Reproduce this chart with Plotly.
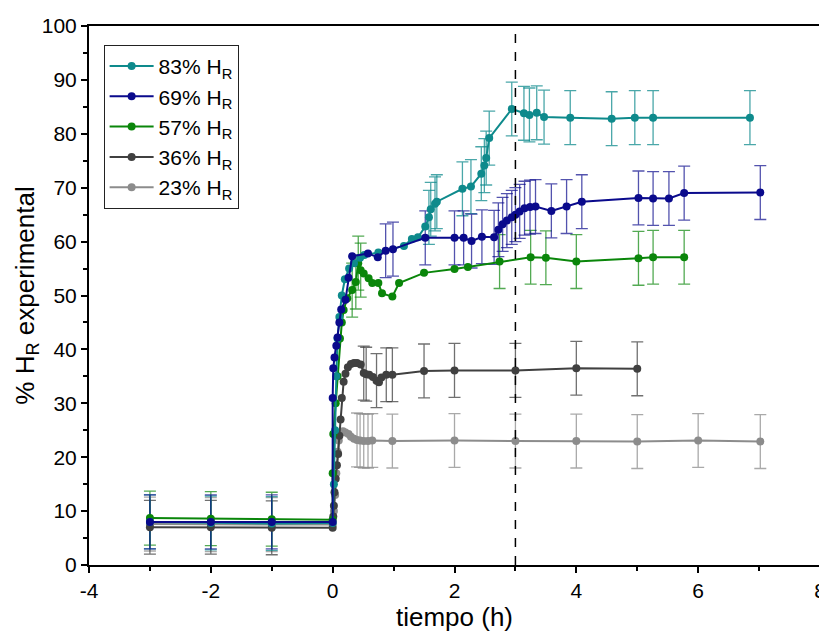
import plotly.graph_objects as go

# ---- data ----
x83 = [-3, -2, -1, 0, 0.02, 0.04, 0.06, 0.08, 0.11, 0.15, 0.2, 0.27, 0.35, 0.45, 0.52, 0.75, 1.17, 1.3, 1.4,
       1.52, 1.58, 1.61, 1.68, 1.71, 2.13, 2.27, 2.44, 2.49, 2.52, 2.57, 2.94, 3.14, 3.23, 3.35, 3.47, 3.9,
       4.58, 4.96, 5.26, 6.85]
y83 = [8.0, 7.8, 7.7, 7.8, 15, 25, 35, 42, 46, 50, 53, 55, 56, 57, 57.5, 58, 59.2, 60.5, 60.8,
       62.8, 64.5, 66.0, 67.0, 67.4, 69.8, 70.2, 72.6, 74.1, 75.5, 79.2, 84.6, 83.8, 83.5, 83.9, 83.1, 83.0,
       82.8, 83.0, 83.0, 83.0]
e83 = [5, 5, 5, None, None, None, None, None, None, None, None, None, None, None, None, None, None, None, None,
       None, 5, 5, 5, 5, 5, 5, 5, 5, 5, 5, 5, 5, 5, 5, 5, 5,
       5, 5, 5, 5]

x69 = [-3, -2, -1, 0, 0.0, 0.01, 0.03, 0.06, 0.08, 0.11, 0.14, 0.21, 0.26, 0.32, 0.58, 0.74, 0.87, 0.99,
       1.52, 2.0, 2.15, 2.28, 2.45, 2.65, 2.72, 2.79, 2.86, 2.94, 3.0, 3.07, 3.15, 3.24, 3.33, 3.59, 3.84,
       4.09, 5.02, 5.26, 5.52, 5.77, 7.02]
y69 = [8.0, 8.0, 8.0, 8.0, 31.0, 36.5, 38.5, 40.7, 42.2, 45.0, 47.4, 49.2, 53.3, 57.3, 57.8, 57.1, 58.3, 58.6,
       60.7, 60.7, 60.7, 60.1, 60.9, 60.8, 62.2, 63.2, 63.9, 64.5, 65.0, 65.6, 66.2, 66.4, 66.5, 65.7, 66.5,
       67.4, 68.1, 68.0, 68.0, 69.0, 69.1]
e69 = [5, 5, 5, None, None, None, None, None, None, None, None, None, None, None, None, None, 5, 5,
       5, 5, 5, 5, 5, 5, 5, 5, 5, 5, 5, 5, 5, 5, 5, 5, 5,
       5, 5, 5, 5, 5, 5]

x57 = [-3, -2, -1, 0, 0.0, 0.01, 0.05, 0.08, 0.12, 0.15, 0.18, 0.24, 0.32, 0.38, 0.42, 0.46, 0.51, 0.59,
       0.65, 0.75, 0.81, 0.98, 1.09, 1.5, 2.0, 2.22, 2.74, 3.25, 3.5, 4.0, 5.02, 5.26, 5.77]
y57 = [8.7, 8.6, 8.5, 8.4, 17, 24.3, 30, 35, 42, 45, 47.3, 49.5, 51.0, 52.5, 56.0, 54.7, 54.1, 53.2,
       52.3, 52.3, 50.4, 49.8, 52.3, 54.2, 54.9, 55.3, 56.3, 57.1, 57.0, 56.3, 56.9, 57.1, 57.1]
e57 = [5, 5, 5, None, None, None, None, None, None, None, None, None, 5, 5, 5, 5, None, None,
       None, None, None, None, None, None, None, None, 5, 5, 5, 5, 5, 5, 5]

x36 = [-3, -2, -1, 0, 0.01, 0.02, 0.03, 0.05, 0.07, 0.09, 0.11, 0.13, 0.15, 0.18, 0.21, 0.25, 0.3, 0.35,
       0.4, 0.46, 0.51, 0.55, 0.6, 0.66, 0.72, 0.76, 0.8, 0.88, 0.98, 1.5, 2.0, 3.0, 4.0, 5.0]
y36 = [7.0, 7.0, 6.9, 6.9, 9, 11, 13.5, 16, 18.5, 20.6, 24, 27, 31, 34, 35.5, 36.7, 37.3, 37.5,
       37.5, 37.2, 35.6, 35.4, 35.3, 34.9, 34.2, 33.9, 34.8, 35.3, 35.3, 36.0, 36.1, 36.1, 36.5, 36.4]
e36 = [5, 5, 5, None, None, None, None, None, None, None, None, None, None, None, None, None, None, None,
       None, None, 5, 5, None, None, 5, None, None, 5, 5, 5, 5, 5, 5, 5]

x23 = [-3, -2, -1, 0, 0.02, 0.04, 0.06, 0.08, 0.1, 0.13, 0.17, 0.21, 0.26, 0.3, 0.35, 0.4, 0.45, 0.51,
       0.58, 0.65, 0.98, 2.0, 3.0, 4.0, 5.0, 6.0, 7.02]
y23 = [7.6, 7.5, 7.5, 7.5, 10, 13, 17, 21, 23.1, 24.5, 24.8, 24.6, 24.3, 23.8, 23.4, 23.2, 23.1, 23.0,
       23.0, 23.1, 23.0, 23.1, 23.0, 23.0, 22.9, 23.1, 22.9]
e23 = [5, 5, 5, None, None, None, None, None, None, None, None, None, None, None, None, 5, 5, 5,
       5, 5, 5, 5, 5, 5, 5, 5, 5]

x_tickvals = [-4, -2, 0, 2, 4, 6, 8]
x_ticktext = ["-4", "-2", "0", "2", "4", "6", "8"]

names = ["83% H<sub>R</sub>", "69% H<sub>R</sub>", "57% H<sub>R</sub>", "36% H<sub>R</sub>", "23% H<sub>R</sub>"]
colors = ["#0E8A8C", "#0A0A8C", "#0A860A", "#404040", "#8C8C8C"]
errcolors = ["rgba(14,138,140,0.75)", "rgba(10,10,140,0.7)", "rgba(10,134,10,0.7)",
             "rgba(64,64,64,0.75)", "rgba(140,140,140,0.75)"]

series = [(x83, y83, e83), (x69, y69, e69), (x57, y57, e57), (x36, y36, e36), (x23, y23, e23)]

fig = go.Figure()
order = [4, 3, 2, 0, 1]

# error bars only where the reference shows them (invisible markers carry them)
for i in order:
    xs, ys, es = series[i]
    keep = [k for k, e in enumerate(es) if e is not None]
    fig.add_trace(go.Scatter(
        x=[xs[k] for k in keep], y=[ys[k] for k in keep], mode="markers",
        marker=dict(size=1, opacity=0), showlegend=False, hoverinfo="skip",
        error_y=dict(type="data", array=[es[k] for k in keep], visible=True,
                     color=errcolors[i], thickness=1.3, width=6),
    ))

for i in order:
    xs, ys, es = series[i]
    fig.add_trace(go.Scatter(
        x=xs, y=ys, mode="lines+markers", name=names[i],
        line=dict(color=colors[i], width=2),
        marker=dict(symbol="circle", size=8, color=colors[i]),
        legendrank=i + 1,
    ))

fig.add_shape(type="line", x0=3, x1=3, y0=0, y1=100, xref="x", yref="y",
              line=dict(color="black", width=1.5, dash="dash"), layer="above")

font_family = "Liberation Sans, Arial, sans-serif"
# the page body has an 8px margin, so the figure is sized/positioned to compensate
fig.update_layout(
    width=819, height=629,
    margin=dict(l=81, r=7, t=18, b=72),
    paper_bgcolor="white", plot_bgcolor="white",
    font=dict(family=font_family, color="black", size=21),
    legend=dict(x=0.02, y=0.965, xanchor="left", yanchor="top",
                bordercolor="#222222", borderwidth=1, bgcolor="white", itemwidth=44,
                font=dict(size=21, family=font_family), tracegroupgap=0),
    xaxis=dict(range=[-4, 8], tickvals=x_tickvals, ticktext=x_ticktext, showgrid=False, zeroline=False,
               showline=True, linecolor="black", linewidth=2, mirror=True,
               ticks="outside", ticklen=6, tickwidth=2, tickcolor="black",
               minor=dict(dtick=1, tick0=0, ticks="outside", ticklen=4, tickwidth=2, tickcolor="black"),
               tickfont=dict(size=21), automargin=False, ticklabeloverflow="allow",
               title=dict(text="tiempo (h)", font=dict(size=26), standoff=6)),
    yaxis=dict(range=[0, 100], dtick=10, showgrid=False, zeroline=False,
               showline=True, linecolor="black", linewidth=2, mirror=True,
               ticks="outside", ticklen=6, tickwidth=2, tickcolor="black",
               minor=dict(dtick=5, ticks="outside", ticklen=4, tickwidth=2, tickcolor="black"),
               tickfont=dict(size=21), automargin=False, ticklabeloverflow="allow",
               title=dict(text="% H<sub>R</sub> experimental", font=dict(size=26), standoff=0)),
    showlegend=True,
)

fig.write_html("out.html")
